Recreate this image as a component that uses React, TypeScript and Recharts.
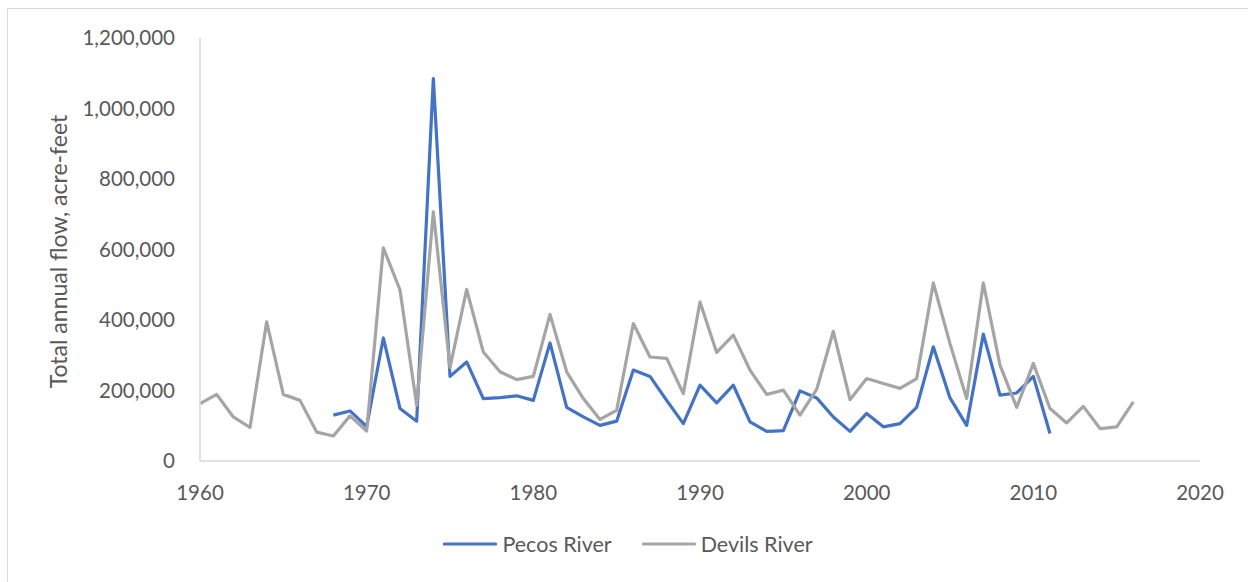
import { CartesianGrid, Legend, Line, LineChart, XAxis, YAxis } from 'recharts';

const years = [
  1960, 1961, 1962, 1963, 1964, 1965, 1966, 1967, 1968, 1969,
  1970, 1971, 1972, 1973, 1974, 1975, 1976, 1977, 1978, 1979,
  1980, 1981, 1982, 1983, 1984, 1985, 1986, 1987, 1988, 1989,
  1990, 1991, 1992, 1993, 1994, 1995, 1996, 1997, 1998, 1999,
  2000, 2001, 2002, 2003, 2004, 2005, 2006, 2007, 2008, 2009,
  2010, 2011, 2012, 2013, 2014, 2015, 2016,
];

// Pecos River record starts in 1968 and ends in 2011
const pecosRiver: (number | null)[] = [
  null, null, null, null, null, null, null, null, 130000, 142000,
  98000, 349000, 149000, 113000, 1085000, 240000, 281000, 177000, 180000, 185000,
  172000, 335000, 152000, 125000, 101000, 113000, 258000, 240000, 172000, 106000,
  215000, 165000, 215000, 111000, 84000, 86000, 199000, 179000, 125000, 84000,
  135000, 97000, 106000, 152000, 324000, 179000, 101000, 360000, 187000, 193000,
  240000, 78000, null, null, null, null, null,
];

const devilsRiver: number[] = [
  163000, 189000, 125000, 95000, 395000, 189000, 172000, 82000, 71000, 128000,
  85000, 605000, 485000, 158000, 707000, 265000, 487000, 309000, 253000, 231000,
  240000, 416000, 253000, 177000, 118000, 144000, 390000, 295000, 291000, 191000,
  451000, 308000, 357000, 258000, 189000, 201000, 130000, 203000, 368000, 174000,
  234000, 220000, 206000, 234000, 505000, 333000, 177000, 505000, 272000, 152000,
  277000, 149000, 108000, 155000, 92000, 97000, 168000,
];

const xTicks = [1960, 1970, 1980, 1990, 2000, 2010, 2020];
const yTicks = [0, 200000, 400000, 600000, 800000, 1000000, 1200000];

const PECOS = '#4472C4';
const DEVILS = '#A5A5A5';
const TEXT = '#595959';
const FONT = 'Lato, "Open Sans", sans-serif';

const data = years.map((year, i) => ({
  year,
  pecos: pecosRiver[i] ?? undefined,
  devils: devilsRiver[i],
}));

function LegendBox() {
  const items = [
    { name: 'Pecos River', color: PECOS },
    { name: 'Devils River', color: DEVILS },
  ];
  return (
    <div style={{ display: 'flex', justifyContent: 'center', gap: 30, fontFamily: FONT, fontSize: 21.5, color: TEXT }}>
      {items.map((it) => (
        <div key={it.name} style={{ display: 'flex', alignItems: 'center', gap: 5 }}>
          <svg width={54} height={6}>
            <line x1={1.5} y1={3} x2={52.5} y2={3} stroke={it.color} strokeWidth={3.2} strokeLinecap="round" />
          </svg>
          <span>{it.name}</span>
        </div>
      ))}
    </div>
  );
}

function YLabel(props: any) {
  const vb = props.viewBox || {};
  const x = vb.x + 59;
  const y = vb.y + vb.height / 2 + 2;
  return (
    <text
      x={x}
      y={y}
      transform={`rotate(-90 ${x} ${y})`}
      textAnchor="middle"
      fill={TEXT}
      fontFamily={FONT}
      fontSize={23}
    >
      Total annual flow, acre-feet
    </text>
  );
}

export default function App() {
  return (
    <div
      style={{
        position: 'fixed',
        left: 7,
        top: 8,
        width: 1260,
        height: 600,
        border: '1px solid #d9d9d9',
        background: '#fff',
      }}
    >
      <LineChart
        width={1240}
        height={573}
        data={data}
        margin={{ top: 29, right: 48, left: 0, bottom: 43 }}
      >
        <CartesianGrid horizontal={false} vertical={false} />
        <XAxis
          dataKey="year"
          type="number"
          domain={[1960, 2020]}
          ticks={xTicks}
          height={50}
          tickLine={false}
          tickSize={0}
          tickMargin={24}
          axisLine={{ stroke: '#d9d9d9', strokeWidth: 1.5 }}
          tick={{ fill: TEXT, fontSize: 20.5, fontFamily: FONT }}
        />
        <YAxis
          type="number"
          domain={[0, 1200000]}
          ticks={yTicks}
          width={192}
          tickLine={false}
          tickSize={0}
          tickMargin={25}
          axisLine={{ stroke: '#d9d9d9', strokeWidth: 1.5 }}
          tick={{ fill: TEXT, fontSize: 20.5, fontFamily: FONT }}
          tickFormatter={(v: number) => v.toLocaleString('en-US')}
          label={{ content: YLabel }}
        />
        <Legend
          verticalAlign="bottom"
          content={<LegendBox />}
          wrapperStyle={{ top: 522, left: 0, width: 1240, height: 28 }}
        />
        <Line
          type="linear"
          dataKey="pecos"
          name="Pecos River"
          stroke={PECOS}
          strokeWidth={3.2}
          strokeLinejoin="round"
          dot={false}
          isAnimationActive={false}
        />
        <Line
          type="linear"
          dataKey="devils"
          name="Devils River"
          stroke={DEVILS}
          strokeWidth={3.2}
          strokeLinejoin="round"
          dot={false}
          isAnimationActive={false}
        />
      </LineChart>
    </div>
  );
}
